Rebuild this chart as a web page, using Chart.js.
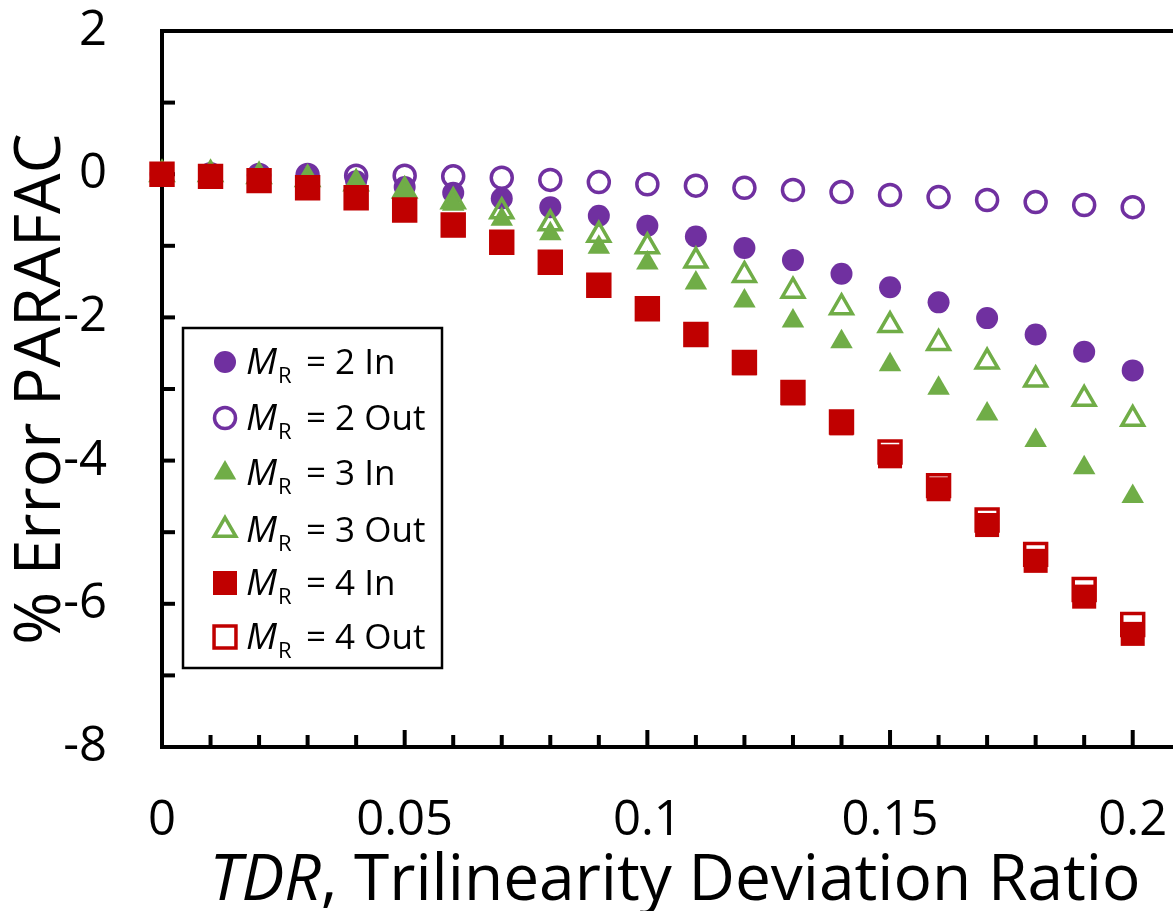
<!DOCTYPE html>
<html>
<head>
<meta charset="utf-8">
<script src="https://cdn.jsdelivr.net/npm/chart.js@4.4.1/dist/chart.umd.min.js"></script>
<style>
  html, body { margin: 0; padding: 0; background: #fff; }
  #wrap { width: 1173px; height: 911px; }
</style>
</head>
<body>
<div id="wrap"><canvas id="chart" width="1173" height="911"></canvas></div>
<script>
// TDR values (x)
const tdr = [0, 0.01, 0.02, 0.03, 0.04, 0.05, 0.06, 0.07, 0.08, 0.09, 0.1,
  0.11, 0.12, 0.13, 0.14, 0.15, 0.16, 0.17, 0.18, 0.19, 0.2];

// % error PARAFAC
const mr2In  = [0, 0, -0.02, -0.04, -0.1, -0.18, -0.26, -0.34, -0.46, -0.58, -0.72,
  -0.87, -1.03, -1.2, -1.39, -1.58, -1.79, -2.01, -2.24, -2.48, -2.74];
const mr2Out = [0, 0, -0.01, -0.01, -0.02, -0.02, -0.03, -0.05, -0.08, -0.11, -0.14,
  -0.16, -0.19, -0.22, -0.25, -0.29, -0.32, -0.36, -0.39, -0.43, -0.46];
const mr3In  = [0, 0, -0.03, -0.08, -0.15, -0.25, -0.42, -0.63, -0.83, -1.02, -1.24,
  -1.52, -1.77, -2.05, -2.34, -2.66, -2.99, -3.35, -3.72, -4.1, -4.5];
const mr3Out = [0, 0, -0.03, -0.07, -0.13, -0.23, -0.38, -0.52, -0.69, -0.85, -1.01,
  -1.21, -1.41, -1.63, -1.86, -2.11, -2.36, -2.62, -2.87, -3.14, -3.42];
const mr4In  = [0, -0.03, -0.09, -0.19, -0.33, -0.5, -0.71, -0.95, -1.23, -1.55, -1.88,
  -2.24, -2.64, -3.06, -3.48, -3.94, -4.4, -4.9, -5.4, -5.9, -6.42];
const mr4Out = [0, -0.03, -0.09, -0.19, -0.33, -0.5, -0.71, -0.95, -1.23, -1.55, -1.88,
  -2.24, -2.63, -3.05, -3.46, -3.88, -4.35, -4.83, -5.31, -5.8, -6.29];

const legendNums = ["2 In", "2 Out", "3 In", "3 Out", "4 In", "4 Out"];

// axis ticks
const xTicks = [0, 0.01, 0.02, 0.03, 0.04, 0.05, 0.06, 0.07, 0.08, 0.09, 0.1,
  0.11, 0.12, 0.13, 0.14, 0.15, 0.16, 0.17, 0.18, 0.19, 0.2];
const xTickLabels = ["0", "0.05", "0.1", "0.15", "0.2"];
const yTickLabels = ["2", "0", "-2", "-4", "-6", "-8"];

const PURPLE = "#7030A0", GREEN = "#70AD47", RED = "#C00000";
const FONT = "'Open Sans', sans-serif";

function pts(ys) {
  return tdr.map((x, i) => ({ x: x, y: ys[i] }));
}

function marker(label, ys, color, style, radius, open, order) {
  return {
    label: label,
    data: pts(ys),
    pointStyle: style,
    pointRadius: radius,
    pointHoverRadius: radius,
    pointBackgroundColor: open ? "rgba(255,255,255,0)" : color,
    pointBorderColor: color,
    pointBorderWidth: open ? 3.5 : 0,
    backgroundColor: open ? "#fff" : color,
    borderColor: color,
    showLine: false,
    clip: false,
    order: order,
  };
}

const datasets = [
  marker(legendNums[0], mr2In, PURPLE, "circle", 11, false, 5),
  marker(legendNums[1], mr2Out, PURPLE, "circle", 10.5, true, 4),
  marker(legendNums[2], mr3In, GREEN, "triangle", 13, false, 3),
  marker(legendNums[3], mr3Out, GREEN, "triangle", 12.5, true, 2),
  marker(legendNums[4], mr4In, RED, "rect", 17, false, 1),
  marker(legendNums[5], mr4Out, RED, "rect", 15.5, true, 0),
];

// inside tick marks, top border, x title, legend
const frame = {
  id: "frame",
  beforeDatasetsDraw(chart) {
    const { ctx, chartArea: a, scales } = chart;
    ctx.save();
    ctx.strokeStyle = "#000";
    ctx.lineWidth = 4;
    ctx.beginPath();
    ctx.moveTo(a.left - 2, a.top);
    ctx.lineTo(a.right, a.top);
    ctx.stroke();
    xTicks.forEach((v) => {
      if (v === 0) return;
      const px = scales.x.getPixelForValue(v);
      const major = Math.abs(v * 20 - Math.round(v * 20)) < 1e-6;
      ctx.beginPath();
      ctx.moveTo(px, a.bottom);
      ctx.lineTo(px, a.bottom - (major ? 17 : 12));
      ctx.stroke();
    });
    for (let v = -7; v <= 1; v++) {
      const py = scales.y.getPixelForValue(v);
      ctx.beginPath();
      ctx.moveTo(a.left, py);
      ctx.lineTo(a.left + 13, py);
      ctx.stroke();
    }
    ctx.restore();
  },
  afterDraw(chart) {
    const { ctx } = chart;
    ctx.save();
    // x axis title: italic TDR + regular rest
    const t1 = "TDR", t2 = ", Trilinearity Deviation Ratio";
    ctx.fillStyle = "#000";
    ctx.textBaseline = "alphabetic";
    ctx.textAlign = "left";
    ctx.font = "italic 64px " + FONT;
    const w1 = ctx.measureText(t1).width;
    ctx.font = "64px " + FONT;
    const w2 = ctx.measureText(t2).width;
    const x0 = 675 - (w1 + w2) / 2;
    ctx.font = "italic 64px " + FONT;
    ctx.fillText(t1, x0, 900);
    ctx.font = "64px " + FONT;
    ctx.fillText(t2, x0 + w1, 900);

    // legend box
    ctx.lineWidth = 2.5;
    ctx.strokeStyle = "#000";
    ctx.fillStyle = "#fff";
    ctx.fillRect(183, 328, 259, 340);
    ctx.strokeRect(183, 328, 259, 340);
    const rows = [362, 418, 473, 530, 583, 637];
    chart.data.datasets.forEach((ds, i) => {
      const y = rows[i];
      ctx.fillStyle = ds.pointBorderWidth > 0 ? "#fff" : ds.pointBackgroundColor;
      ctx.strokeStyle = ds.pointBorderColor;
      ctx.lineWidth = ds.pointBorderWidth;
      Chart.helpers.drawPoint(ctx, {
        pointStyle: ds.pointStyle,
        radius: ds.pointRadius,
        rotation: 0,
        borderWidth: ds.pointBorderWidth,
      }, 225, y);
      ctx.fillStyle = "#000";
      ctx.font = "italic 37px " + FONT;
      ctx.fillText("M", 246, y + 12);
      const mw = ctx.measureText("M").width;
      ctx.font = "22px " + FONT;
      ctx.fillText("R", 246 + mw + 1, y + 21);
      ctx.font = "35px " + FONT;
      ctx.fillText("= " + ds.label, 306, y + 12);
    });
    ctx.restore();
  },
};

const config = {
  type: "scatter",
  data: { datasets: datasets },
  options: {
    responsive: false,
    animation: false,
    devicePixelRatio: 1,
    events: [],
    layout: {
      autoPadding: false,
      padding: { top: 31, right: 0, left: 0, bottom: 0 },
    },
    plugins: {
      legend: { display: false },
      tooltip: { enabled: false },
    },
    scales: {
      x: {
        type: "linear",
        min: 0,
        max: 0.2083,
        afterBuildTicks: (s) => { s.ticks = xTicks.map((v) => ({ value: v })); },
        afterFit: (s) => {
          s.height = 164;
          s.paddingLeft = 0;
          s.paddingRight = 0;
        },
        ticks: {
          autoSkip: false,
          maxRotation: 0,
          padding: 45,
          color: "#000",
          font: { family: FONT, size: 49 },
          callback: (v) => {
            const k = Math.round(v * 20);
            return Math.abs(v * 20 - k) < 1e-6 ? xTickLabels[k] : "";
          },
        },
        grid: { display: false, drawTicks: false },
        border: { display: true, color: "#000", width: 4 },
      },
      y: {
        min: -8,
        max: 2,
        afterFit: (s) => {
          s.width = 162;
          s.paddingTop = 0;
          s.paddingBottom = 0;
        },
        ticks: {
          stepSize: 1,
          autoSkip: false,
          padding: 55,
          color: "#000",
          font: { family: FONT, size: 49 },
          callback: (v) => (v % 2 === 0 ? yTickLabels[(2 - v) / 2] : ""),
        },
        grid: { display: false, drawTicks: false },
        border: { display: true, color: "#000", width: 4 },
        title: {
          display: true,
          text: "% Error PARAFAC",
          color: "#000",
          font: { family: FONT, size: 64 },
          padding: { top: 3, bottom: 0 },
        },
      },
    },
  },
  plugins: [frame],
};

document.addEventListener("DOMContentLoaded", () => {
  const ctx = document.getElementById("chart").getContext("2d");
  new Chart(ctx, config);
});
</script>
</body>
</html>
